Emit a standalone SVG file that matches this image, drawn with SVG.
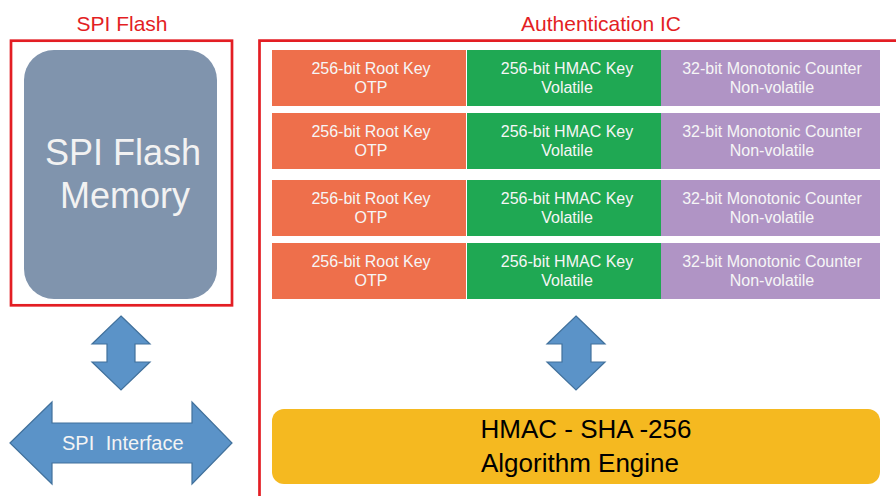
<svg xmlns="http://www.w3.org/2000/svg" width="896" height="496" viewBox="0 0 896 496">
<defs>
<style>
.title{font-family:"Liberation Sans",Arial,sans-serif;font-size:21px;fill:#e31e24;text-anchor:middle}
.frame{fill:none;stroke:#e31e24;stroke-width:2.7}
.cell{font-family:"Liberation Sans",Arial,sans-serif;font-size:16px;fill:#f6f6f6;text-anchor:middle}
.rk{fill:#ee6f4b}
.hk{fill:#1fa853}
.mc{fill:#b094c5}
.arrow{fill:#5b93c8;stroke:#41719c;stroke-width:1.2;stroke-linejoin:miter}
</style>
</defs>
<rect width="896" height="496" fill="#ffffff"/>
<g id="spi-flash">
<text class="title" x="122" y="31">SPI Flash</text>
<rect class="frame" x="11" y="40.7" width="221" height="264.6"/>
</g>
<g id="spi-flash-memory">
<rect x="24" y="50" width="193" height="249" rx="30" ry="30" fill="#8094ad"/>
<text x="123" y="165" font-family="Liberation Sans, Arial, sans-serif" font-size="36" fill="#f2f2f2" text-anchor="middle">SPI Flash</text>
<text x="125" y="208" font-family="Liberation Sans, Arial, sans-serif" font-size="36" fill="#f2f2f2" text-anchor="middle">Memory</text>
</g>
<g id="auth-ic">
<text class="title" x="601" y="31">Authentication IC</text>
<path class="frame" d="M259.5,496 V40.7 H896"/>
</g>
<g id="key-row-1">
<rect class="rk" x="272" y="50" width="194" height="56"/>
<rect class="hk" x="467" y="50" width="194" height="56"/>
<rect class="mc" x="661" y="50" width="219" height="56"/>
<text class="cell" x="371" y="74">256-bit Root Key</text><text class="cell" x="371" y="93">OTP</text>
<text class="cell" x="567" y="74">256-bit HMAC Key</text><text class="cell" x="567" y="93">Volatile</text>
<text class="cell" x="772" y="74">32-bit Monotonic Counter</text><text class="cell" x="772" y="93">Non-volatile</text>
</g>
<g id="key-row-2">
<rect class="rk" x="272" y="113" width="194" height="56"/>
<rect class="hk" x="467" y="113" width="194" height="56"/>
<rect class="mc" x="661" y="113" width="219" height="56"/>
<text class="cell" x="371" y="137">256-bit Root Key</text><text class="cell" x="371" y="156">OTP</text>
<text class="cell" x="567" y="137">256-bit HMAC Key</text><text class="cell" x="567" y="156">Volatile</text>
<text class="cell" x="772" y="137">32-bit Monotonic Counter</text><text class="cell" x="772" y="156">Non-volatile</text>
</g>
<g id="key-row-3">
<rect class="rk" x="272" y="180" width="194" height="56"/>
<rect class="hk" x="467" y="180" width="194" height="56"/>
<rect class="mc" x="661" y="180" width="219" height="56"/>
<text class="cell" x="371" y="204">256-bit Root Key</text><text class="cell" x="371" y="223">OTP</text>
<text class="cell" x="567" y="204">256-bit HMAC Key</text><text class="cell" x="567" y="223">Volatile</text>
<text class="cell" x="772" y="204">32-bit Monotonic Counter</text><text class="cell" x="772" y="223">Non-volatile</text>
</g>
<g id="key-row-4">
<rect class="rk" x="272" y="243" width="194" height="56"/>
<rect class="hk" x="467" y="243" width="194" height="56"/>
<rect class="mc" x="661" y="243" width="219" height="56"/>
<text class="cell" x="371" y="267">256-bit Root Key</text><text class="cell" x="371" y="286">OTP</text>
<text class="cell" x="567" y="267">256-bit HMAC Key</text><text class="cell" x="567" y="286">Volatile</text>
<text class="cell" x="772" y="267">32-bit Monotonic Counter</text><text class="cell" x="772" y="286">Non-volatile</text>
</g>
<g id="hmac-engine">
<rect x="272" y="409" width="608" height="75" rx="12" ry="12" fill="#f5b920"/>
<text x="586" y="438" font-family="Liberation Sans, Arial, sans-serif" font-size="26" fill="#000000" text-anchor="middle">HMAC - SHA -256</text>
<text x="580" y="472" font-family="Liberation Sans, Arial, sans-serif" font-size="26" fill="#000000" text-anchor="middle">Algorithm Engine</text>
</g>
<g id="spi-interface">
<path class="arrow" d="M10,443 L52,402 L52,423 L192,423 L192,402 L232,443 L192,484 L192,463 L52,463 L52,484 Z"/>
<text x="62" y="450" font-family="Liberation Sans, Arial, sans-serif" font-size="20" fill="#f4f4f4">SPI <tspan dx="6">Interface</tspan></text>
</g>
<g id="connectors">
<path class="arrow" d="M121,316 L150,344 L135,344 L135,362 L150,362 L121,390 L92,362 L107,362 L107,344 L92,344 Z"/>
<path class="arrow" d="M576,316 L605,344 L591,344 L591,362 L605,362 L576,390 L547,362 L562,362 L562,344 L547,344 Z"/>
</g>
</svg>
